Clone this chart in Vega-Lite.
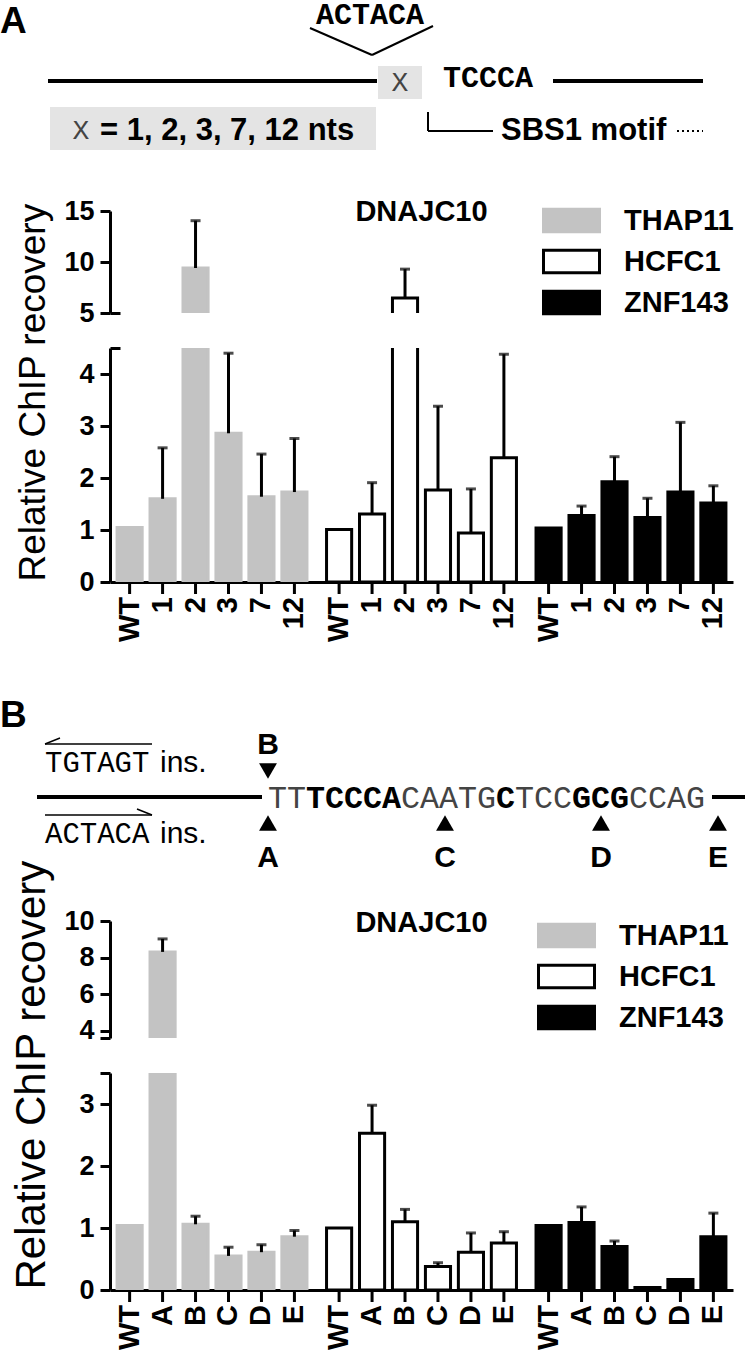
{
"$schema":"https://vega.github.io/schema/vega-lite/v6.json",
"padding":0,
"bounds":"flush",
"spacing":35,
"config":{"view":{"stroke":null},"font":"Liberation Sans","axis":{"grid":false,"domainColor":"#000","tickColor":"#000","labelColor":"#000","titleColor":"#000","labelFont":"Liberation Sans","titleFont":"Liberation Sans"},"legend":{"labelFont":"Liberation Sans","labelColor":"#000"}},
"resolve":{"scale":{"fill":"independent","stroke":"independent","xOffset":"independent"},"legend":{"fill":"independent","stroke":"independent"}},
"datasets":{
"A":[
{"protein":"THAP11","cond":"WT","mean":1.05,"hi":null},
{"protein":"THAP11","cond":"1","mean":1.60,"hi":2.58},
{"protein":"THAP11","cond":"2","mean":9.41,"hi":14.05},
{"protein":"THAP11","cond":"3","mean":2.86,"hi":4.40},
{"protein":"THAP11","cond":"7","mean":1.64,"hi":2.46},
{"protein":"THAP11","cond":"12","mean":1.73,"hi":2.76},
{"protein":"HCFC1","cond":"WT","mean":1.01,"hi":null},
{"protein":"HCFC1","cond":"1","mean":1.31,"hi":1.91},
{"protein":"HCFC1","cond":"2","mean":6.47,"hi":9.3},
{"protein":"HCFC1","cond":"3","mean":1.77,"hi":3.38},
{"protein":"HCFC1","cond":"7","mean":0.94,"hi":1.79},
{"protein":"HCFC1","cond":"12","mean":2.39,"hi":4.38},
{"protein":"ZNF143","cond":"WT","mean":1.04,"hi":null},
{"protein":"ZNF143","cond":"1","mean":1.28,"hi":1.46},
{"protein":"ZNF143","cond":"2","mean":1.93,"hi":2.41},
{"protein":"ZNF143","cond":"3","mean":1.24,"hi":1.61},
{"protein":"ZNF143","cond":"7","mean":1.73,"hi":3.07},
{"protein":"ZNF143","cond":"12","mean":1.52,"hi":1.85}
],
"B":[
{"protein":"THAP11","cond":"WT","mean":1.04,"hi":null},
{"protein":"THAP11","cond":"A","mean":8.31,"hi":9.02},
{"protein":"THAP11","cond":"B","mean":1.06,"hi":1.19},
{"protein":"THAP11","cond":"C","mean":0.55,"hi":0.69},
{"protein":"THAP11","cond":"D","mean":0.61,"hi":0.73},
{"protein":"THAP11","cond":"E","mean":0.86,"hi":0.96},
{"protein":"HCFC1","cond":"WT","mean":1.0,"hi":null},
{"protein":"HCFC1","cond":"A","mean":2.53,"hi":2.98},
{"protein":"HCFC1","cond":"B","mean":1.10,"hi":1.30},
{"protein":"HCFC1","cond":"C","mean":0.38,"hi":0.44},
{"protein":"HCFC1","cond":"D","mean":0.61,"hi":0.92},
{"protein":"HCFC1","cond":"E","mean":0.76,"hi":0.94},
{"protein":"ZNF143","cond":"WT","mean":1.04,"hi":null},
{"protein":"ZNF143","cond":"A","mean":1.09,"hi":1.34},
{"protein":"ZNF143","cond":"B","mean":0.70,"hi":0.79},
{"protein":"ZNF143","cond":"C","mean":0.04,"hi":null},
{"protein":"ZNF143","cond":"D","mean":0.17,"hi":null},
{"protein":"ZNF143","cond":"E","mean":0.86,"hi":1.24}
]
},
"vconcat":[
{
"width":623,"height":176,
"encoding":{
"x":{"field":"x","type":"quantitative","scale":{"domain":[110,733],"nice":false,"zero":false},"axis":null},
"y":{"field":"y","type":"quantitative","scale":{"domain":[176,0],"nice":false,"zero":false},"axis":null}},
"layer":[
{"data":{"values":[{"x":378,"y":66,"x2":422,"y2":99},{"x":50,"y":107,"x2":376,"y2":150}]},"mark":{"type":"rect","color":"#e4e4e4"},"encoding":{"x2":{"field":"x2"},"y2":{"field":"y2"}}},
{"data":{"values":[{"x":48,"y":81,"x2":377,"y2":81},{"x":553,"y":81,"x2":703,"y2":81}]},"mark":{"type":"rule","strokeWidth":4,"color":"#000"},"encoding":{"x2":{"field":"x2"},"y2":{"field":"y2"}}},
{"data":{"values":[{"x":310,"y":28,"x2":372,"y2":55},{"x":372,"y":55,"x2":433,"y2":26},{"x":428,"y":112,"x2":428,"y2":131},{"x":428,"y":131,"x2":493,"y2":131}]},"mark":{"type":"rule","strokeWidth":2,"color":"#000"},"encoding":{"x2":{"field":"x2"},"y2":{"field":"y2"}}},
{"data":{"values":[{"x":677,"y":131,"x2":703,"y2":131}]},"mark":{"type":"rule","strokeWidth":2,"strokeDash":[2,3],"color":"#000"},"encoding":{"x2":{"field":"x2"},"y2":{"field":"y2"}}},
{"data":{"values":[{"x":0,"y":33,"t":"A"}]},"mark":{"type":"text","align":"left","baseline":"alphabetic","fontSize":37,"fontWeight":"bold","color":"#000"},"encoding":{"text":{"field":"t"}}},
{"data":{"values":[{"x":316,"y":24,"t":"ACTACA"},{"x":443,"y":87,"t":"TCCCA"}]},"mark":{"type":"text","align":"left","baseline":"alphabetic","font":"Liberation Mono","fontSize":30,"fontWeight":"bold","color":"#000"},"encoding":{"text":{"field":"t"}}},
{"data":{"values":[{"x":400,"y":83,"t":"X"},{"x":81,"y":131,"t":"X"}]},"mark":{"type":"text","align":"center","baseline":"middle","font":"Liberation Mono","fontSize":28,"color":"#444"},"encoding":{"text":{"field":"t"}}},
{"data":{"values":[{"x":100,"y":140,"t":"= 1, 2, 3, 7, 12 nts"},{"x":501,"y":140,"t":"SBS1 motif"}]},"mark":{"type":"text","align":"left","baseline":"alphabetic","fontSize":31,"fontWeight":"bold","color":"#000"},"encoding":{"text":{"field":"t"}}}
]
},
{
"width":623,"height":102,"data":{"name":"A"},
"resolve":{"axis":{"y":"independent"}},
"layer":[
{"mark":{"type":"bar","clip":true,"strokeWidth":3},
"encoding":{
"x":{"field":"protein","type":"nominal","scale":{"domain":["THAP11","HCFC1","ZNF143"],"paddingInner":0.056,"paddingOuter":0.015},"axis":null},
"xOffset":{"field":"cond","type":"nominal","scale":{"domain":["WT","1","2","3","7","12"],"paddingInner":0.238,"paddingOuter":0.119}},
"y":{"field":"mean","type":"quantitative","scale":{"domain":[5,15],"nice":false,"zero":false},"axis":{"orient":"left","values":[5,10,15],"format":"d","title":null,"domainWidth":3,"tickWidth":3,"tickSize":10,"labelFontSize":27,"labelFontWeight":"bold","labelPadding":6}},
"y2":{"datum":0},
"fill":{"field":"protein","type":"nominal","scale":{"domain":["THAP11","HCFC1","ZNF143"],"range":["#c3c3c3","#ffffff","#000000"]},"legend":{"orient":"none","legendX":446,"legendY":-6,"title":null,"symbolType":"M-2,-0.8H2V0.8H-2Z","symbolSize":784,"symbolStrokeWidth":3,"labelFontSize":29,"labelFontWeight":"bold","labelOffset":37,"rowPadding":6,"padding":0}},
"stroke":{"field":"protein","type":"nominal","scale":{"domain":["THAP11","HCFC1","ZNF143"],"range":["#c3c3c3","#000000","#000000"]},"legend":{"orient":"none","legendX":446,"legendY":-6,"title":null,"symbolType":"M-2,-0.8H2V0.8H-2Z","symbolSize":784,"symbolStrokeWidth":3,"labelFontSize":29,"labelFontWeight":"bold","labelOffset":37,"rowPadding":6,"padding":0}}}},
{"transform":[{"filter":"datum.hi != null"}],"mark":{"type":"rule","clip":true,"strokeWidth":3,"color":"#000"},
"encoding":{
"x":{"field":"protein","type":"nominal","scale":{"domain":["THAP11","HCFC1","ZNF143"],"paddingInner":0.056,"paddingOuter":0.015},"axis":null},
"xOffset":{"field":"cond","type":"nominal","scale":{"domain":["WT","1","2","3","7","12"],"paddingInner":0.238,"paddingOuter":0.119}},
"y":{"field":"mean","type":"quantitative","scale":{"domain":[5,15],"nice":false,"zero":false},"axis":null},
"y2":{"field":"hi"}}},
{"transform":[{"filter":"datum.hi != null"}],"mark":{"type":"tick","clip":true,"thickness":3,"size":10,"color":"#000","orient":"horizontal"},
"encoding":{
"x":{"field":"protein","type":"nominal","scale":{"domain":["THAP11","HCFC1","ZNF143"],"paddingInner":0.056,"paddingOuter":0.015},"axis":null},
"xOffset":{"field":"cond","type":"nominal","scale":{"domain":["WT","1","2","3","7","12"],"paddingInner":0.238,"paddingOuter":0.119}},
"y":{"field":"hi","type":"quantitative","scale":{"domain":[5,15],"nice":false,"zero":false},"axis":null}}},
{"data":{"values":[{"label":"DNAJC10"}]},"mark":{"type":"text","fontSize":29,"fontWeight":"bold","align":"center","baseline":"middle","dy":1,"color":"#000"},
"encoding":{
"x":{"datum":"HCFC1","type":"nominal","scale":{"domain":["THAP11","HCFC1","ZNF143"],"paddingInner":0.056,"paddingOuter":0.015},"axis":null},
"y":{"datum":15,"type":"quantitative","scale":{"domain":[5,15],"nice":false,"zero":false},"axis":{"orient":"left","values":[5],"labels":false,"domain":false,"title":null,"tickSize":-10,"tickWidth":3}},
"text":{"field":"label"}}}
]
},
{
"width":623,"height":234,"data":{"name":"A"},
"resolve":{"axis":{"y":"independent"}},
"layer":[
{"mark":{"type":"bar","clip":true,"strokeWidth":3},
"encoding":{
"x":{"field":"protein","type":"nominal","scale":{"domain":["THAP11","HCFC1","ZNF143"],"paddingInner":0.056,"paddingOuter":0.015},"axis":{"labels":false,"ticks":false,"title":null,"domainWidth":3}},
"xOffset":{"field":"cond","type":"nominal","scale":{"domain":["WT","1","2","3","7","12"],"paddingInner":0.238,"paddingOuter":0.119}},
"y":{"field":"mean","type":"quantitative","scale":{"domain":[0,4.5],"nice":false,"zero":false},"axis":{"orient":"left","values":[0,1,2,3,4],"format":"d","title":"Relative ChIP recovery","titleFontSize":37,"titleFontWeight":"normal","titleX":-77,"titleY":233,"titleAlign":"left","titleAngle":270,"titleBaseline":"middle","domainWidth":3,"tickWidth":3,"tickSize":10,"labelFontSize":27,"labelFontWeight":"bold","labelPadding":6}},
"y2":{"datum":0},
"fill":{"field":"protein","type":"nominal","scale":{"domain":["THAP11","HCFC1","ZNF143"],"range":["#c3c3c3","#ffffff","#000000"]},"legend":null},
"stroke":{"field":"protein","type":"nominal","scale":{"domain":["THAP11","HCFC1","ZNF143"],"range":["#c3c3c3","#000000","#000000"]},"legend":null}}},
{"transform":[{"filter":"datum.hi != null"}],"mark":{"type":"rule","clip":true,"strokeWidth":3,"color":"#000"},
"encoding":{
"x":{"field":"protein","type":"nominal","scale":{"domain":["THAP11","HCFC1","ZNF143"],"paddingInner":0.056,"paddingOuter":0.015},"axis":{"labels":false,"ticks":false,"title":null,"domainWidth":3}},
"xOffset":{"field":"cond","type":"nominal","scale":{"domain":["WT","1","2","3","7","12"],"paddingInner":0.238,"paddingOuter":0.119}},
"y":{"field":"mean","type":"quantitative","scale":{"domain":[0,4.5],"nice":false,"zero":false},"axis":null},
"y2":{"field":"hi"}}},
{"transform":[{"filter":"datum.hi != null"}],"mark":{"type":"tick","clip":true,"thickness":3,"size":10,"color":"#000","orient":"horizontal"},
"encoding":{
"x":{"field":"protein","type":"nominal","scale":{"domain":["THAP11","HCFC1","ZNF143"],"paddingInner":0.056,"paddingOuter":0.015},"axis":{"labels":false,"ticks":false,"title":null,"domainWidth":3}},
"xOffset":{"field":"cond","type":"nominal","scale":{"domain":["WT","1","2","3","7","12"],"paddingInner":0.238,"paddingOuter":0.119}},
"y":{"field":"hi","type":"quantitative","scale":{"domain":[0,4.5],"nice":false,"zero":false},"axis":null}}},
{"mark":{"type":"rule","strokeWidth":3,"color":"#000","y2Offset":12},
"encoding":{
"x":{"field":"protein","type":"nominal","scale":{"domain":["THAP11","HCFC1","ZNF143"],"paddingInner":0.056,"paddingOuter":0.015},"axis":{"labels":false,"ticks":false,"title":null,"domainWidth":3}},
"xOffset":{"field":"cond","type":"nominal","scale":{"domain":["WT","1","2","3","7","12"],"paddingInner":0.238,"paddingOuter":0.119}},
"y":{"datum":0,"type":"quantitative","scale":{"domain":[0,4.5],"nice":false,"zero":false},"axis":{"orient":"left","values":[4.5],"labels":false,"domain":false,"title":null,"tickSize":-10,"tickWidth":3}},
"y2":{"datum":0}}},
{"mark":{"type":"text","angle":270,"align":"right","baseline":"middle","dx":-15,"fontSize":29,"fontWeight":"bold","color":"#000"},
"encoding":{
"x":{"field":"protein","type":"nominal","scale":{"domain":["THAP11","HCFC1","ZNF143"],"paddingInner":0.056,"paddingOuter":0.015},"axis":{"labels":false,"ticks":false,"title":null,"domainWidth":3}},
"xOffset":{"field":"cond","type":"nominal","scale":{"domain":["WT","1","2","3","7","12"],"paddingInner":0.238,"paddingOuter":0.119}},
"y":{"datum":0,"type":"quantitative","scale":{"domain":[0,4.5],"nice":false,"zero":false},"axis":null},
"text":{"field":"cond"}}}
]
},
{
"width":623,"height":269,
"encoding":{
"x":{"field":"x","type":"quantitative","scale":{"domain":[110,733],"nice":false,"zero":false},"axis":null},
"y":{"field":"y","type":"quantitative","scale":{"domain":[886,617],"nice":false,"zero":false},"axis":null}},
"layer":[
{"data":{"values":[{"x":37,"y":797,"x2":262,"y2":797},{"x":712,"y":797,"x2":745,"y2":797}]},"mark":{"type":"rule","strokeWidth":4,"color":"#000"},"encoding":{"x2":{"field":"x2"},"y2":{"field":"y2"}}},
{"data":{"values":[{"x":45,"y":744,"x2":152,"y2":744},{"x":45,"y":744,"x2":60,"y2":738},{"x":45,"y":815,"x2":152,"y2":815},{"x":152,"y":815,"x2":137,"y2":809}]},"mark":{"type":"rule","strokeWidth":1.5,"color":"#000"},"encoding":{"x2":{"field":"x2"},"y2":{"field":"y2"}}},
{"data":{"values":[{"x":0,"y":727,"t":"B"}]},"mark":{"type":"text","align":"left","baseline":"alphabetic","fontSize":37,"fontWeight":"bold","color":"#000"},"encoding":{"text":{"field":"t"}}},
{"data":{"values":[{"x":45,"y":772,"t":"TGTAGT"},{"x":45,"y":843,"t":"ACTACA"}]},"mark":{"type":"text","align":"left","baseline":"alphabetic","font":"Liberation Mono","fontSize":29,"color":"#000"},"encoding":{"text":{"field":"t"}}},
{"data":{"values":[{"x":160,"y":772,"t":"ins."},{"x":160,"y":843,"t":"ins."}]},"mark":{"type":"text","align":"left","baseline":"alphabetic","fontSize":30,"color":"#000"},"encoding":{"text":{"field":"t"}}},
{"data":{"values":[{"x":268,"y":745,"t":"B"},{"x":268,"y":858,"t":"A"},{"x":445,"y":858,"t":"C"},{"x":601,"y":858,"t":"D"},{"x":718,"y":858,"t":"E"}]},"mark":{"type":"text","align":"center","baseline":"middle","fontSize":30,"fontWeight":"bold","color":"#000"},"encoding":{"text":{"field":"t"}}},
{"data":{"values":[{"x":268,"y":771}]},"mark":{"type":"point","shape":"triangle-down","filled":true,"size":320,"color":"#000","opacity":1},"encoding":{}},
{"data":{"values":[{"x":268,"y":823},{"x":445,"y":823},{"x":601,"y":823},{"x":718,"y":823}]},"mark":{"type":"point","shape":"triangle-up","filled":true,"size":320,"color":"#000","opacity":1},"encoding":{}},
{"data":{"values":[{"x":268,"y":808,"t":"TT"},{"x":401,"y":808,"t":"CAATG"},{"x":515,"y":808,"t":"TCC"},{"x":629,"y":808,"t":"CCAG"}]},"mark":{"type":"text","align":"left","baseline":"alphabetic","font":"Liberation Mono","fontSize":31.7,"color":"#444"},"encoding":{"text":{"field":"t"}}},
{"data":{"values":[{"x":306,"y":808,"t":"TCCCA"},{"x":496,"y":808,"t":"C"},{"x":572,"y":808,"t":"GCG"}]},"mark":{"type":"text","align":"left","baseline":"alphabetic","font":"Liberation Mono","fontSize":31.7,"fontWeight":"bold","color":"#000"},"encoding":{"text":{"field":"t"}}}
]
},
{
"width":623,"height":117,"data":{"name":"B"},
"resolve":{"axis":{"y":"independent"}},
"layer":[
{"mark":{"type":"bar","clip":true,"strokeWidth":3},
"encoding":{
"x":{"field":"protein","type":"nominal","scale":{"domain":["THAP11","HCFC1","ZNF143"],"paddingInner":0.056,"paddingOuter":0.015},"axis":null},
"xOffset":{"field":"cond","type":"nominal","scale":{"domain":["WT","A","B","C","D","E"],"paddingInner":0.238,"paddingOuter":0.119}},
"y":{"field":"mean","type":"quantitative","scale":{"domain":[3.6,10],"nice":false,"zero":false},"axis":{"orient":"left","values":[4,6,8,10],"format":"d","title":null,"domainWidth":3,"tickWidth":3,"tickSize":10,"labelFontSize":27,"labelFontWeight":"bold","labelPadding":6}},
"y2":{"datum":0},
"fill":{"field":"protein","type":"nominal","scale":{"domain":["THAP11","HCFC1","ZNF143"],"range":["#c3c3c3","#ffffff","#000000"]},"legend":{"orient":"none","legendX":441,"legendY":-1,"title":null,"symbolType":"M-2,-0.8H2V0.8H-2Z","symbolSize":784,"symbolStrokeWidth":3,"labelFontSize":29,"labelFontWeight":"bold","labelOffset":37,"rowPadding":6,"padding":0}},
"stroke":{"field":"protein","type":"nominal","scale":{"domain":["THAP11","HCFC1","ZNF143"],"range":["#c3c3c3","#000000","#000000"]},"legend":{"orient":"none","legendX":441,"legendY":-1,"title":null,"symbolType":"M-2,-0.8H2V0.8H-2Z","symbolSize":784,"symbolStrokeWidth":3,"labelFontSize":29,"labelFontWeight":"bold","labelOffset":37,"rowPadding":6,"padding":0}}}},
{"transform":[{"filter":"datum.hi != null"}],"mark":{"type":"rule","clip":true,"strokeWidth":3,"color":"#000"},
"encoding":{
"x":{"field":"protein","type":"nominal","scale":{"domain":["THAP11","HCFC1","ZNF143"],"paddingInner":0.056,"paddingOuter":0.015},"axis":null},
"xOffset":{"field":"cond","type":"nominal","scale":{"domain":["WT","A","B","C","D","E"],"paddingInner":0.238,"paddingOuter":0.119}},
"y":{"field":"mean","type":"quantitative","scale":{"domain":[3.6,10],"nice":false,"zero":false},"axis":null},
"y2":{"field":"hi"}}},
{"transform":[{"filter":"datum.hi != null"}],"mark":{"type":"tick","clip":true,"thickness":3,"size":10,"color":"#000","orient":"horizontal"},
"encoding":{
"x":{"field":"protein","type":"nominal","scale":{"domain":["THAP11","HCFC1","ZNF143"],"paddingInner":0.056,"paddingOuter":0.015},"axis":null},
"xOffset":{"field":"cond","type":"nominal","scale":{"domain":["WT","A","B","C","D","E"],"paddingInner":0.238,"paddingOuter":0.119}},
"y":{"field":"hi","type":"quantitative","scale":{"domain":[3.6,10],"nice":false,"zero":false},"axis":null}}},
{"data":{"values":[{"label":"DNAJC10"}]},"mark":{"type":"text","fontSize":29,"fontWeight":"bold","align":"center","baseline":"middle","dy":2,"color":"#000"},
"encoding":{
"x":{"datum":"HCFC1","type":"nominal","scale":{"domain":["THAP11","HCFC1","ZNF143"],"paddingInner":0.056,"paddingOuter":0.015},"axis":null},
"y":{"datum":10,"type":"quantitative","scale":{"domain":[3.6,10],"nice":false,"zero":false},"axis":{"orient":"left","values":[3.6],"labels":false,"domain":false,"title":null,"tickSize":10,"tickWidth":3,"encode":{"ticks":{"update":{"x":{"value":10}}}}}},
"text":{"field":"label"}}}
]
},
{
"width":623,"height":217,"data":{"name":"B"},
"resolve":{"axis":{"y":"independent"}},
"layer":[
{"mark":{"type":"bar","clip":true,"strokeWidth":3},
"encoding":{
"x":{"field":"protein","type":"nominal","scale":{"domain":["THAP11","HCFC1","ZNF143"],"paddingInner":0.056,"paddingOuter":0.015},"axis":{"labels":false,"ticks":false,"title":null,"domainWidth":3}},
"xOffset":{"field":"cond","type":"nominal","scale":{"domain":["WT","A","B","C","D","E"],"paddingInner":0.238,"paddingOuter":0.119}},
"y":{"field":"mean","type":"quantitative","scale":{"domain":[0,3.5],"nice":false,"zero":false},"axis":{"orient":"left","values":[0,1,2,3],"format":"d","title":"Relative ChIP recovery","titleFontSize":42,"titleFontWeight":"normal","titleX":-79,"titleY":216,"titleAlign":"left","titleAngle":270,"titleBaseline":"middle","domainWidth":3,"tickWidth":3,"tickSize":10,"labelFontSize":27,"labelFontWeight":"bold","labelPadding":6}},
"y2":{"datum":0},
"fill":{"field":"protein","type":"nominal","scale":{"domain":["THAP11","HCFC1","ZNF143"],"range":["#c3c3c3","#ffffff","#000000"]},"legend":null},
"stroke":{"field":"protein","type":"nominal","scale":{"domain":["THAP11","HCFC1","ZNF143"],"range":["#c3c3c3","#000000","#000000"]},"legend":null}}},
{"transform":[{"filter":"datum.hi != null"}],"mark":{"type":"rule","clip":true,"strokeWidth":3,"color":"#000"},
"encoding":{
"x":{"field":"protein","type":"nominal","scale":{"domain":["THAP11","HCFC1","ZNF143"],"paddingInner":0.056,"paddingOuter":0.015},"axis":{"labels":false,"ticks":false,"title":null,"domainWidth":3}},
"xOffset":{"field":"cond","type":"nominal","scale":{"domain":["WT","A","B","C","D","E"],"paddingInner":0.238,"paddingOuter":0.119}},
"y":{"field":"mean","type":"quantitative","scale":{"domain":[0,3.5],"nice":false,"zero":false},"axis":null},
"y2":{"field":"hi"}}},
{"transform":[{"filter":"datum.hi != null"}],"mark":{"type":"tick","clip":true,"thickness":3,"size":10,"color":"#000","orient":"horizontal"},
"encoding":{
"x":{"field":"protein","type":"nominal","scale":{"domain":["THAP11","HCFC1","ZNF143"],"paddingInner":0.056,"paddingOuter":0.015},"axis":{"labels":false,"ticks":false,"title":null,"domainWidth":3}},
"xOffset":{"field":"cond","type":"nominal","scale":{"domain":["WT","A","B","C","D","E"],"paddingInner":0.238,"paddingOuter":0.119}},
"y":{"field":"hi","type":"quantitative","scale":{"domain":[0,3.5],"nice":false,"zero":false},"axis":null}}},
{"mark":{"type":"rule","strokeWidth":3,"color":"#000","y2Offset":12},
"encoding":{
"x":{"field":"protein","type":"nominal","scale":{"domain":["THAP11","HCFC1","ZNF143"],"paddingInner":0.056,"paddingOuter":0.015},"axis":{"labels":false,"ticks":false,"title":null,"domainWidth":3}},
"xOffset":{"field":"cond","type":"nominal","scale":{"domain":["WT","A","B","C","D","E"],"paddingInner":0.238,"paddingOuter":0.119}},
"y":{"datum":0,"type":"quantitative","scale":{"domain":[0,3.5],"nice":false,"zero":false},"axis":{"orient":"left","values":[3.5],"labels":false,"domain":false,"title":null,"tickSize":10,"tickWidth":3,"encode":{"ticks":{"update":{"x":{"value":10}}}}}},
"y2":{"datum":0}}},
{"mark":{"type":"text","angle":270,"align":"right","baseline":"middle","dx":-15,"fontSize":29,"fontWeight":"bold","color":"#000"},
"encoding":{
"x":{"field":"protein","type":"nominal","scale":{"domain":["THAP11","HCFC1","ZNF143"],"paddingInner":0.056,"paddingOuter":0.015},"axis":{"labels":false,"ticks":false,"title":null,"domainWidth":3}},
"xOffset":{"field":"cond","type":"nominal","scale":{"domain":["WT","A","B","C","D","E"],"paddingInner":0.238,"paddingOuter":0.119}},
"y":{"datum":0,"type":"quantitative","scale":{"domain":[0,3.5],"nice":false,"zero":false},"axis":null},
"text":{"field":"cond"}}}
]
}
]
}
